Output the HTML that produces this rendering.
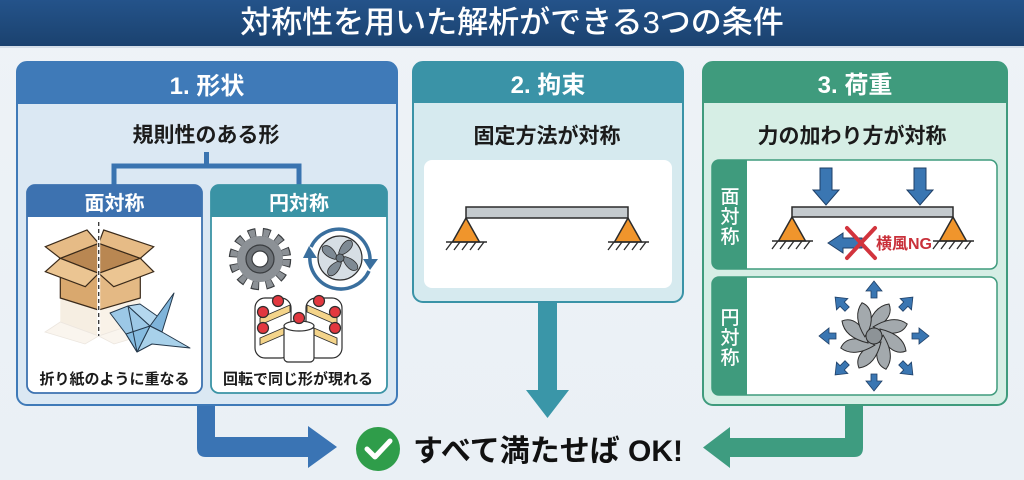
<!DOCTYPE html>
<html lang="ja">
<head>
<meta charset="utf-8">
<style>
  html,body{margin:0;padding:0;width:1024px;height:480px;overflow:hidden;background:#edf2f6;}
  svg{display:block;}
  text{font-family:"Liberation Sans","Noto Sans CJK JP",sans-serif;}
</style>
</head>
<body>
<svg width="1024" height="480" viewBox="0 0 1024 480" xmlns="http://www.w3.org/2000/svg">
  <defs>
    <linearGradient id="tg" x1="0" y1="0" x2="0" y2="1">
      <stop offset="0" stop-color="#24538a"/>
      <stop offset="1" stop-color="#1b426f"/>
    </linearGradient>
    <linearGradient id="bg" x1="0" y1="0" x2="0" y2="1">
      <stop offset="0" stop-color="#eef3f7"/>
      <stop offset="1" stop-color="#eaf0f5"/>
    </linearGradient>
    <g id="sup">
      <polygon points="0,0 -13.5,24 13.5,24" fill="#f0952c" stroke="#2b2b2b" stroke-width="1.5"/>
      <line x1="-20" y1="24" x2="21" y2="24" stroke="#2b2b2b" stroke-width="1.5"/>
      <path d="M-14,24 l-6,8 M-6,24 l-6,8 M2,24 l-6,8 M10,24 l-6,8 M18,24 l-6,8" stroke="#2b2b2b" stroke-width="1.3" fill="none"/>
    </g>
    <g id="darr">
      <polygon points="-6,0 6,0 6,22 13,22 0,37 -13,22 -6,22" fill="#3a76b2" stroke="#1f3f66" stroke-width="1"/>
    </g>
    <g id="blade">
      <path d="M-2,-7 C8,-10 20,-20 15,-32 C8,-31 -2,-27 -7,-6 Z" fill="#a3a9ad" stroke="#2e2e2e" stroke-width="1"/>
    </g>
    <g id="oarr">
      <polygon points="-3,-38 3,-38 3,-45 8,-45 0,-55 -8,-45 -3,-45" fill="#3a76b2" stroke="#1f3f66" stroke-width="0.8"/>
    </g>
    <g id="fblade">
      <path d="M0,-3 C6,-8 10,-16 5,-20 C0,-21 -4,-14 -3,-4 Z" fill="#7e8a94" stroke="#2e2e2e" stroke-width="0.8"/>
    </g>
  </defs>

  <rect width="1024" height="480" fill="url(#bg)"/>

  <!-- Title bar -->
  <rect x="0" y="0" width="1024" height="46" fill="url(#tg)"/>
  <rect x="0" y="46" width="1024" height="2" fill="#d5dee8"/>
  <text x="512" y="33" font-size="31" font-weight="500" fill="#ffffff" text-anchor="middle">対称性を用いた解析ができる3つの条件</text>

  <!-- ================= Panel 1 ================= -->
  <rect x="17" y="62" width="380" height="343" rx="10" fill="#dbe8f3" stroke="#3f7ab8" stroke-width="2"/>
  <path d="M17,104 V72 Q17,62 27,62 H387 Q397,62 397,72 V104 Z" fill="#3f7ab8"/>
  <text x="207" y="94" font-size="24" font-weight="700" fill="#ffffff" text-anchor="middle">1. 形状</text>
  <text x="206" y="142" font-size="21" font-weight="700" fill="#1b1b1b" text-anchor="middle">規則性のある形</text>

  <!-- connector -->
  <path d="M206.5,152 V166 M114,166 H299 M114,163.5 V186 M299,163.5 V186" stroke="#3a74b0" stroke-width="5" fill="none"/>

  <!-- Sub-panel A -->
  <rect x="27" y="185" width="175" height="208" rx="8" fill="#ffffff" stroke="#3d72b0" stroke-width="1.8"/>
  <path d="M27,217 V193 Q27,185 35,185 H194 Q202,185 202,193 V217 Z" fill="#3d72b0"/>
  <text x="114.5" y="210" font-size="20" font-weight="700" fill="#ffffff" text-anchor="middle">面対称</text>
  <text x="114.5" y="384" font-size="15" font-weight="700" fill="#1b1b1b" text-anchor="middle">折り紙のように重なる</text>

  <!-- cardboard box -->
  <g opacity="0.35">
    <polygon points="60.3,298 98.7,310 98.7,336 60.3,322" fill="#e8cfae"/>
    <polygon points="98.7,310 140.3,298 140.3,322 98.7,336" fill="#f0dcc0"/>
    <polygon points="60.3,322 45,332 85,344 98.7,336" fill="#f1e3d0" stroke="#c9b8a4" stroke-width="0.8"/>
    <polygon points="98.7,336 114,344 154,332 140.3,322" fill="#f1e3d0" stroke="#c9b8a4" stroke-width="0.8"/>
  </g>
  <polygon points="60.3,258.3 98.7,273.3 98.7,310 60.3,298" fill="#d9a86e" stroke="#3a2a1a" stroke-width="1.2"/>
  <polygon points="98.7,273.3 140.3,258.3 140.3,298 98.7,310" fill="#e4b984" stroke="#3a2a1a" stroke-width="1.2"/>
  <polygon points="60.3,258.3 98.7,243.3 140.3,258.3 98.7,273.3" fill="#b98752" stroke="#3a2a1a" stroke-width="1.2"/>
  <polygon points="45.3,246.7 87,230 98.7,243.3 60.3,258.3" fill="#e6bb86" stroke="#3a2a1a" stroke-width="1.2"/>
  <polygon points="103.7,230 153.7,246.7 140.3,258.3 98.7,243.3" fill="#e6bb86" stroke="#3a2a1a" stroke-width="1.2"/>
  <polygon points="60.3,258.3 45.3,271.7 85.3,286.7 98.7,273.3" fill="#ebc592" stroke="#3a2a1a" stroke-width="1.2"/>
  <polygon points="98.7,273.3 113.7,286.7 153.7,271.7 140.3,258.3" fill="#ebc592" stroke="#3a2a1a" stroke-width="1.2"/>
  <line x1="98.7" y1="222" x2="98.7" y2="336" stroke="#ffffff" stroke-width="3"/>
  <line x1="98.7" y1="222" x2="98.7" y2="336" stroke="#333333" stroke-width="1.3" stroke-dasharray="4 3"/>

  <!-- origami crane -->
  <g stroke="#23374a" stroke-width="1" stroke-linejoin="round">
    <polygon points="110,313 128,306 150,326 137,352 126,334" fill="#9cc8e6"/>
    <polygon points="128,306 150,326 160,318 140,304" fill="#b4d7ee"/>
    <polygon points="150,326 174,293 162,332" fill="#7fb4da"/>
    <polygon points="150,326 162,332 190,348 152,344 137,352" fill="#a8d1ea"/>
    <polygon points="126,334 137,352 150,326" fill="#86bce0"/>
    <line x1="128" y1="306" x2="137" y2="352"/>
  </g>

  <!-- Sub-panel B -->
  <rect x="211" y="185" width="176" height="208" rx="8" fill="#ffffff" stroke="#3a93a5" stroke-width="1.8"/>
  <path d="M211,217 V193 Q211,185 219,185 H379 Q387,185 387,193 V217 Z" fill="#3a93a5"/>
  <text x="299" y="210" font-size="20" font-weight="700" fill="#ffffff" text-anchor="middle">円対称</text>
  <text x="298" y="384" font-size="15" font-weight="700" fill="#1b1b1b" text-anchor="middle">回転で同じ形が現れる</text>

  <!-- gear -->
  <circle cx="260" cy="259" r="26.5" fill="none" stroke="#3a3d40" stroke-width="9.5" stroke-dasharray="7.5 6.64"/>
  <circle cx="260" cy="259" r="26.5" fill="none" stroke="#8c9196" stroke-width="7" stroke-dasharray="5.8 8.34" stroke-dashoffset="-0.85"/>
  <circle cx="260" cy="259" r="23" fill="#8c9196"/>
  <circle cx="260" cy="259" r="14" fill="#6d7277" stroke="#3a3d40" stroke-width="1.2"/>
  <circle cx="260" cy="259" r="8" fill="#ffffff" stroke="#3a3d40" stroke-width="1.2"/>

  <!-- fan with rotation arrows -->
  <circle cx="340" cy="258" r="22" fill="#d6dee4" stroke="#2e2e2e" stroke-width="1.2"/>
  <g transform="translate(340,258)">
    <use href="#fblade" transform="rotate(20)"/>
    <use href="#fblade" transform="rotate(110)"/>
    <use href="#fblade" transform="rotate(200)"/>
    <use href="#fblade" transform="rotate(290)"/>
    <circle r="4" fill="#6b7780" stroke="#2e2e2e" stroke-width="0.8"/>
  </g>
  <path d="M311,247 A31,31 0 0 1 370,262" fill="none" stroke="#3a6f9e" stroke-width="3.5"/>
  <polygon points="363,259 378,259 370,270" fill="#3a6f9e"/>
  <path d="M369,271 A31,31 0 0 1 310,255" fill="none" stroke="#3a6f9e" stroke-width="3.5"/>
  <polygon points="303,258 317,258 309,246" fill="#3a6f9e"/>

  <!-- cake -->
  <g stroke="#2e2e2e" stroke-width="1.2">
    <rect x="255" y="298" width="36" height="60" rx="10" fill="#ffffff"/>
    <rect x="306" y="298" width="36" height="60" rx="10" fill="#ffffff"/>
    <polygon points="260,318 290,305 290,312 260,325" fill="#f4d48a" stroke-width="0.9"/>
    <polygon points="260,338 290,325 290,332 260,345" fill="#f4d48a" stroke-width="0.9"/>
    <polygon points="337,318 307,305 307,312 337,325" fill="#f4d48a" stroke-width="0.9"/>
    <polygon points="337,338 307,325 307,332 337,345" fill="#f4d48a" stroke-width="0.9"/>
    <rect x="284" y="325" width="30" height="37" rx="4" fill="#ffffff"/>
    <ellipse cx="299" cy="326" rx="15" ry="5" fill="#ffffff"/>
    <circle cx="278" cy="301" r="5.5" fill="#e2383f"/>
    <circle cx="319" cy="301" r="5.5" fill="#e2383f"/>
    <circle cx="263" cy="312" r="5.5" fill="#e2383f"/>
    <circle cx="335" cy="312" r="5.5" fill="#e2383f"/>
    <circle cx="263" cy="328" r="5.5" fill="#e2383f"/>
    <circle cx="335" cy="328" r="5.5" fill="#e2383f"/>
    <circle cx="299" cy="318" r="5.5" fill="#e2383f"/>
  </g>

  <!-- ================= Panel 2 ================= -->
  <rect x="413" y="62" width="270" height="240" rx="10" fill="#d6eaef" stroke="#3a93a7" stroke-width="2"/>
  <path d="M413,103 V72 Q413,62 423,62 H673 Q683,62 683,72 V103 Z" fill="#3a93a7"/>
  <text x="548" y="93" font-size="24" font-weight="700" fill="#ffffff" text-anchor="middle">2. 拘束</text>
  <text x="547" y="143" font-size="21" font-weight="700" fill="#1b1b1b" text-anchor="middle">固定方法が対称</text>
  <rect x="424" y="160" width="248" height="128" rx="8" fill="#ffffff"/>
  <rect x="466" y="207" width="162" height="11" fill="#c4cace" stroke="#2b2b2b" stroke-width="1.5"/>
  <use href="#sup" x="466" y="218"/>
  <use href="#sup" x="628" y="218"/>

  <!-- ================= Panel 3 ================= -->
  <rect x="703" y="62" width="304" height="343" rx="10" fill="#d6eee5" stroke="#3f9b7d" stroke-width="2"/>
  <path d="M703,103 V72 Q703,62 713,62 H997 Q1007,62 1007,72 V103 Z" fill="#3f9b7d"/>
  <text x="855" y="93" font-size="24" font-weight="700" fill="#ffffff" text-anchor="middle">3. 荷重</text>
  <text x="852" y="143" font-size="21" font-weight="700" fill="#1b1b1b" text-anchor="middle">力の加わり方が対称</text>

  <!-- sub box 1 -->
  <rect x="712" y="160" width="285" height="109" rx="7" fill="#ffffff" stroke="#3f9b7d" stroke-width="1.5"/>
  <path d="M747,160 H719 Q712,160 712,167 V262 Q712,269 719,269 H747 Z" fill="#3f9b7d"/>
  <text x="730" y="203" font-size="19" font-weight="500" fill="#ffffff" text-anchor="middle">面</text>
  <text x="730" y="223" font-size="19" font-weight="500" fill="#ffffff" text-anchor="middle">対</text>
  <text x="730" y="243" font-size="19" font-weight="500" fill="#ffffff" text-anchor="middle">称</text>
  <use href="#darr" x="826" y="168"/>
  <use href="#darr" x="920" y="168"/>
  <rect x="792" y="207" width="161" height="10" fill="#c4cace" stroke="#2b2b2b" stroke-width="1.5"/>
  <use href="#sup" x="792" y="217"/>
  <use href="#sup" x="953" y="217"/>
  <polygon points="828,243 843,233 843,238 862,238 862,248 843,248 843,253" fill="#3a76b2" stroke="#1f3f66" stroke-width="1"/>
  <path d="M847,228 L875,258 M875,228 L847,258" stroke="#d2343d" stroke-width="4" stroke-linecap="round"/>
  <text x="876" y="249" font-size="16" font-weight="700" fill="#c9303a">横風NG</text>

  <!-- sub box 2 -->
  <rect x="712" y="277" width="285" height="118" rx="7" fill="#ffffff" stroke="#3f9b7d" stroke-width="1.5"/>
  <path d="M747,277 H719 Q712,277 712,284 V388 Q712,395 719,395 H747 Z" fill="#3f9b7d"/>
  <text x="730" y="324" font-size="19" font-weight="500" fill="#ffffff" text-anchor="middle">円</text>
  <text x="730" y="344" font-size="19" font-weight="500" fill="#ffffff" text-anchor="middle">対</text>
  <text x="730" y="364" font-size="19" font-weight="500" fill="#ffffff" text-anchor="middle">称</text>
  <g transform="translate(874,336)">
    <use href="#oarr" transform="rotate(0)"/>
    <use href="#oarr" transform="rotate(45)"/>
    <use href="#oarr" transform="rotate(90)"/>
    <use href="#oarr" transform="rotate(135)"/>
    <use href="#oarr" transform="rotate(180)"/>
    <use href="#oarr" transform="rotate(225)"/>
    <use href="#oarr" transform="rotate(270)"/>
    <use href="#oarr" transform="rotate(315)"/>
    <use href="#blade" transform="rotate(0)"/>
    <use href="#blade" transform="rotate(45)"/>
    <use href="#blade" transform="rotate(90)"/>
    <use href="#blade" transform="rotate(135)"/>
    <use href="#blade" transform="rotate(180)"/>
    <use href="#blade" transform="rotate(225)"/>
    <use href="#blade" transform="rotate(270)"/>
    <use href="#blade" transform="rotate(315)"/>
    <circle r="8" fill="#8d9397" stroke="#2e2e2e" stroke-width="1"/>
  </g>

  <!-- ================= Flow arrows ================= -->
  <path d="M197,406 H215 V437 H308 V426 L337,447 L308,468 V457 H206 Q197,457 197,448 Z" fill="#3a74b4"/>
  <path d="M538,303 H557 V390 H569 L547.5,418 L526,390 H538 Z" fill="#3a96a8"/>
  <path d="M863,406 H845 V438 H730 V427 L703,447.5 L730,468 V457 H854 Q863,457 863,448 Z" fill="#3e9c80"/>

  <!-- OK -->
  <circle cx="378" cy="449" r="22" fill="#2f9d4a"/>
  <path d="M367,449 L375,457 L390,441" fill="none" stroke="#ffffff" stroke-width="5" stroke-linecap="round" stroke-linejoin="round"/>
  <text x="413" y="461" font-size="30" font-weight="700" fill="#111111">すべて満たせば OK!</text>
</svg>
</body>
</html>
